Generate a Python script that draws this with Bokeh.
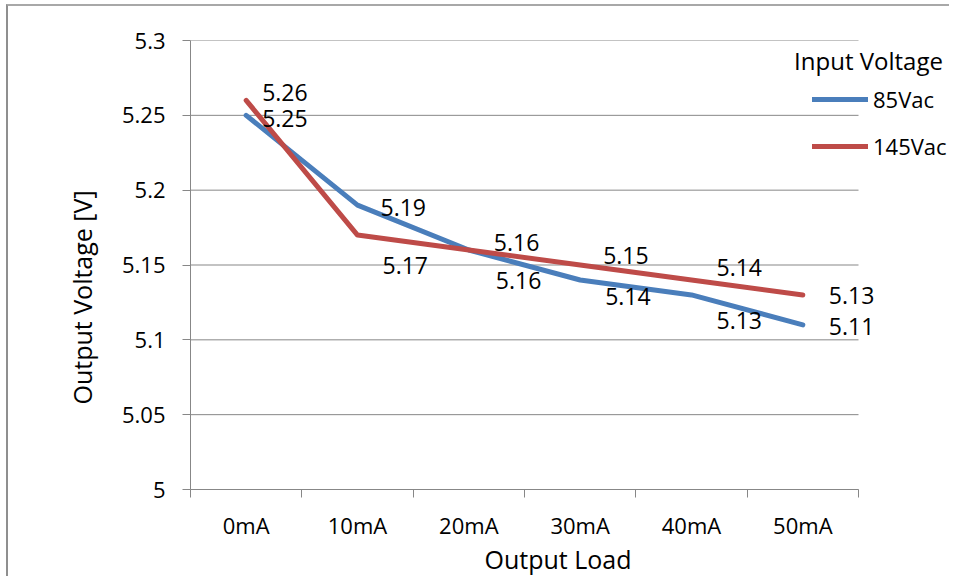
from bokeh.plotting import figure
from bokeh.models import FixedTicker, Legend, LegendItem, Label, ColumnDataSource, Range1d
from bokeh.core.properties import value
from bokeh.embed import file_html
from bokeh.resources import INLINE

# ---- data ----
categories = ["0mA", "10mA", "20mA", "30mA", "40mA", "50mA"]
series_names = ["85Vac", "145Vac"]
v85 = [5.25, 5.19, 5.16, 5.14, 5.13, 5.11]
v145 = [5.26, 5.17, 5.16, 5.15, 5.14, 5.13]
y_ticks = [5.0, 5.05, 5.1, 5.15, 5.2, 5.25, 5.3]
y_tick_labels = ["5", "5.05", "5.1", "5.15", "5.2", "5.25", "5.3"]

# ---- styling ----
FONT = "Open Sans"
FS = "22px"
FS_DATA = "23px"
FS_TITLE = "25px"
GRAY = "#878787"
BLUE = "#4A7EBB"
RED = "#BE4B48"
NB = "\u00a0"
# data label pixel offsets (dx, dy) per point
off85_dx = [16, 23, 27, 25, 25, 26]
off85_dy = [3, 2, 30, 17, 26, 2]
off145_dx = [16, 25, 25, 23, 25, 26]
off145_dy = [-8, 30, -8, -10, -12, 1]

PLOT_W = 668      # width of the gridded plot area (px)
FRAME_W = 761     # frame incl. room for the legend on the right

n = len(categories)
xpos = [i + 0.5 for i in range(n)]
bounds = [float(i) for i in range(n + 1)]

p = figure(width=943, height=572, output_backend="svg", toolbar_location=None,
           x_range=Range1d(0, n * FRAME_W / PLOT_W), y_range=Range1d(y_ticks[0], y_ticks[-1]),
           min_border_left=182, min_border_right=0, min_border_top=34, min_border_bottom=85)
p.styles = {"margin-left": "6px", "margin-top": "4px",
            "border-left": "2px solid #8f8f8f", "border-top": "2px solid #a8a8a8"}
p.outline_line_color = None
p.background_fill_color = "white"
p.border_fill_color = "white"
p.xgrid.grid_line_color = None
p.ygrid.grid_line_color = None

# horizontal gridlines limited to the category span
p.segment(x0=[0] * len(y_ticks), x1=[n] * len(y_ticks), y0=y_ticks, y1=y_ticks,
          line_color=GRAY, line_width=1)

src85 = ColumnDataSource(dict(x=xpos, y=v85, t=[f"{v:g}" for v in v85], dx=off85_dx, dy=off85_dy))
src145 = ColumnDataSource(dict(x=xpos, y=v145, t=[f"{v:g}" for v in v145], dx=off145_dx, dy=off145_dy))

r85 = p.line("x", "y", source=src85, line_color=BLUE, line_width=5, line_cap="round", line_join="round")
r145 = p.line("x", "y", source=src145, line_color=RED, line_width=5, line_cap="round", line_join="round")

for src in (src85, src145):
    p.text("x", "y", text="t", source=src, x_offset="dx", y_offset="dy",
           text_font=value(FONT), text_font_size=FS_DATA, text_color="black",
           text_align="left", text_baseline="middle")

# x axis
xa = p.xaxis[0]
xa.bounds = (0, n)
xa.ticker = FixedTicker(ticks=xpos, minor_ticks=bounds)
xa.major_label_overrides = {x: c for x, c in zip(xpos, categories)}
xa.major_tick_line_color = None
xa.major_tick_out = 8
xa.major_tick_in = 0
xa.minor_tick_line_color = GRAY
xa.minor_tick_out = 8
xa.minor_tick_in = 0
xa.axis_line_color = GRAY
xa.major_label_text_font = FONT
xa.major_label_text_font_size = FS
xa.major_label_text_color = "black"
xa.major_label_standoff = 12
xa.axis_label = "Output Load" + NB * 4
xa.axis_label_text_font = FONT
xa.axis_label_text_font_size = FS_TITLE
xa.axis_label_text_font_style = "normal"
xa.axis_label_text_color = "black"
xa.axis_label_standoff = -1

# y axis
ya = p.yaxis[0]
ya.ticker = FixedTicker(ticks=y_ticks, minor_ticks=[])
ya.major_label_overrides = {t: s for t, s in zip(y_ticks, y_tick_labels)}
ya.major_tick_line_color = GRAY
ya.major_tick_out = 8
ya.major_tick_in = 0
ya.minor_tick_line_color = None
ya.axis_line_color = GRAY
ya.major_label_text_font = FONT
ya.major_label_text_font_size = FS
ya.major_label_text_color = "black"
ya.major_label_standoff = 17
ya.axis_label = "Output Voltage [V]" + NB * 10
ya.axis_label_text_font = FONT
ya.axis_label_text_font_size = FS_TITLE
ya.axis_label_text_font_style = "normal"
ya.axis_label_text_color = "black"
ya.axis_label_standoff = 20

legend = Legend(items=[LegendItem(label=series_names[0], renderers=[r85]),
                       LegendItem(label=series_names[1], renderers=[r145])],
                location=(622, 328), orientation="vertical")
legend.background_fill_alpha = 0
legend.border_line_color = None
legend.padding = 0
legend.margin = 0
legend.label_standoff = 5
legend.glyph_width = 56
legend.glyph_height = 22
legend.label_height = 22
legend.spacing = 17
legend.label_text_font = FONT
legend.label_text_font_size = FS
legend.label_text_color = "black"
p.add_layout(legend)

title = Label(x=678, y=429, x_units="screen", y_units="screen", text="Input Voltage",
              text_font=FONT, text_font_size="24px", text_color="black",
              text_align="center", text_baseline="middle")
p.add_layout(title)

open("out.html", "w").write(file_html(p, INLINE))
